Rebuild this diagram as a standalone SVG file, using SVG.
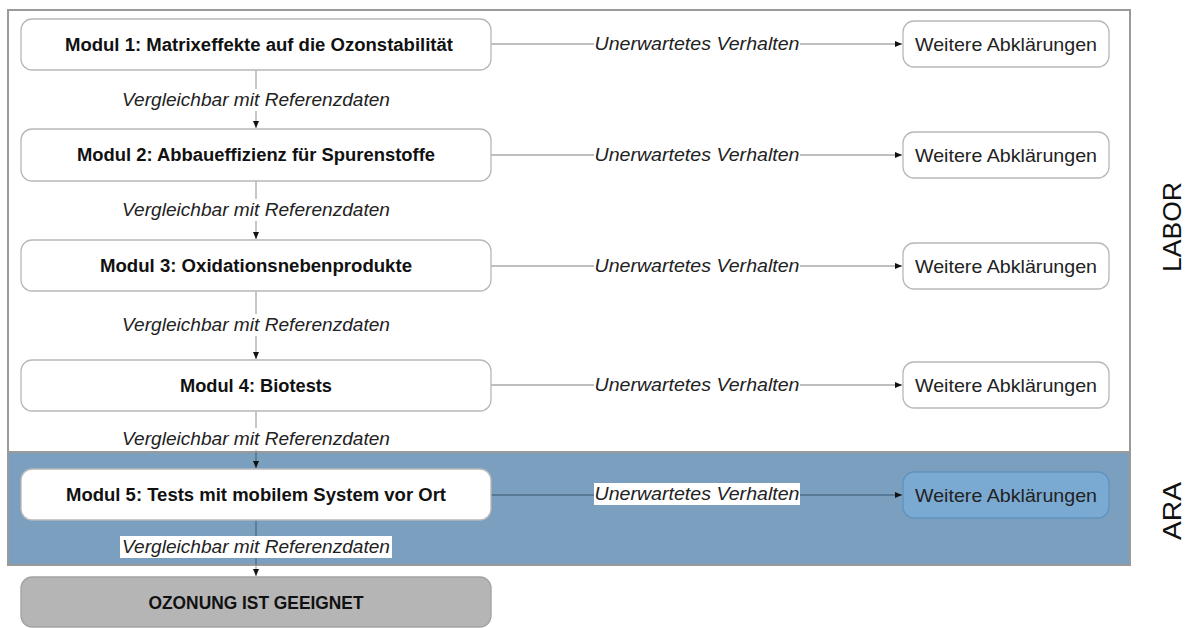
<svg xmlns="http://www.w3.org/2000/svg" width="1189" height="628" viewBox="0 0 1189 628">
<style>
.frame{fill:#ffffff;stroke:#9a9a9a;stroke-width:2}
.ara{fill:#7a9fbf;stroke:#9a9a9a;stroke-width:2}
.mod{fill:#ffffff;stroke:#b8b8b8;stroke-width:1.3}
.wa{fill:#ffffff;stroke:#b8b8b8;stroke-width:1.3}
.waAra{fill:#7aaad2;stroke:#5f93bf;stroke-width:1.3}
.fin{fill:#b5b5b5;stroke:#a3a3a3;stroke-width:1.3}
.mt{font-family:"Liberation Sans",Arial,sans-serif;font-weight:bold;font-size:17.5px;fill:#111;text-anchor:middle}
.wt{font-family:"Liberation Sans",Arial,sans-serif;font-size:18.5px;fill:#222;text-anchor:middle}
.lbl{font-family:"Liberation Sans",Arial,sans-serif;font-style:italic;font-size:17.5px;fill:#222;text-anchor:middle}
.side{font-family:"Liberation Sans",Arial,sans-serif;font-size:26px;fill:#111;text-anchor:middle}
.ln{stroke:#a8a8a8;stroke-width:1.3;fill:none}
.lnA{stroke:#4e6d88;stroke-width:1.3;fill:none}
.bg{fill:#ffffff}
</style>
<defs>
<marker id="ah" markerWidth="8" markerHeight="8" refX="7" refY="4" orient="auto" markerUnits="userSpaceOnUse">
<path d="M0,1 L7,4 L0,7 Z" fill="#111"/>
</marker>
</defs>

<g id="labor-frame">
<rect class="frame" x="8" y="10" width="1122" height="442"/>
<text class="side" transform="translate(1181,227) rotate(-90)" textLength="90" lengthAdjust="spacingAndGlyphs">LABOR</text>
</g>
<g id="ara-frame">
<rect class="ara" x="8" y="452" width="1122" height="113"/>
<text class="side" transform="translate(1181,511) rotate(-90)" textLength="58" lengthAdjust="spacingAndGlyphs">ARA</text>
</g>

<g id="connectors">
<line class="ln" x1="256" y1="70" x2="256" y2="128" marker-end="url(#ah)"/>
<line class="ln" x1="256" y1="181" x2="256" y2="239" marker-end="url(#ah)"/>
<line class="ln" x1="256" y1="291" x2="256" y2="359" marker-end="url(#ah)"/>
<line class="ln" x1="256" y1="411" x2="256" y2="452"/>
<line class="lnA" x1="256" y1="452" x2="256" y2="468" marker-end="url(#ah)"/>
<line class="lnA" x1="256" y1="520" x2="256" y2="565"/>
<line class="ln" x1="256" y1="565" x2="256" y2="576" marker-end="url(#ah)"/>
<line class="ln" x1="491" y1="44" x2="902" y2="44" marker-end="url(#ah)"/>
<line class="ln" x1="491" y1="155" x2="902" y2="155" marker-end="url(#ah)"/>
<line class="ln" x1="491" y1="266" x2="902" y2="266" marker-end="url(#ah)"/>
<line class="ln" x1="491" y1="385" x2="902" y2="385" marker-end="url(#ah)"/>
<line class="lnA" x1="491" y1="495" x2="902" y2="495" marker-end="url(#ah)"/>

<rect class="bg" x="594" y="33" width="206" height="22"/>
<text class="lbl" x="697" y="50" textLength="205" lengthAdjust="spacingAndGlyphs">Unerwartetes Verhalten</text>
<rect class="bg" x="594" y="144" width="206" height="22"/>
<text class="lbl" x="697" y="161" textLength="205" lengthAdjust="spacingAndGlyphs">Unerwartetes Verhalten</text>
<rect class="bg" x="594" y="255" width="206" height="22"/>
<text class="lbl" x="697" y="272" textLength="205" lengthAdjust="spacingAndGlyphs">Unerwartetes Verhalten</text>
<rect class="bg" x="594" y="374" width="206" height="22"/>
<text class="lbl" x="697" y="391" textLength="205" lengthAdjust="spacingAndGlyphs">Unerwartetes Verhalten</text>
<rect class="bg" x="594" y="483" width="206" height="22"/>
<text class="lbl" x="697" y="500" textLength="205" lengthAdjust="spacingAndGlyphs">Unerwartetes Verhalten</text>

<rect class="bg" x="120" y="89" width="272" height="22"/>
<text class="lbl" x="256" y="106" textLength="268" lengthAdjust="spacingAndGlyphs">Vergleichbar mit Referenzdaten</text>
<rect class="bg" x="120" y="199" width="272" height="22"/>
<text class="lbl" x="256" y="216" textLength="268" lengthAdjust="spacingAndGlyphs">Vergleichbar mit Referenzdaten</text>
<rect class="bg" x="120" y="314" width="272" height="22"/>
<text class="lbl" x="256" y="331" textLength="268" lengthAdjust="spacingAndGlyphs">Vergleichbar mit Referenzdaten</text>
<rect class="bg" x="120" y="428" width="272" height="22"/>
<text class="lbl" x="256" y="445" textLength="268" lengthAdjust="spacingAndGlyphs">Vergleichbar mit Referenzdaten</text>
<rect class="bg" x="120" y="536" width="272" height="22"/>
<text class="lbl" x="256" y="553" textLength="268" lengthAdjust="spacingAndGlyphs">Vergleichbar mit Referenzdaten</text>
</g>

<g id="modul1">
<rect class="mod" x="21" y="19" width="470" height="51" rx="11"/>
<text class="mt" x="259" y="51" textLength="388" lengthAdjust="spacingAndGlyphs">Modul 1: Matrixeffekte auf die Ozonstabilität</text>
</g>
<g id="modul2">
<rect class="mod" x="21" y="129" width="470" height="52" rx="11"/>
<text class="mt" x="256" y="161" textLength="358" lengthAdjust="spacingAndGlyphs">Modul 2: Abbaueffizienz für Spurenstoffe</text>
</g>
<g id="modul3">
<rect class="mod" x="21" y="240" width="470" height="51" rx="11"/>
<text class="mt" x="256" y="272" textLength="312" lengthAdjust="spacingAndGlyphs">Modul 3: Oxidationsnebenprodukte</text>
</g>
<g id="modul4">
<rect class="mod" x="21" y="360" width="470" height="51" rx="11"/>
<text class="mt" x="256" y="392" textLength="152" lengthAdjust="spacingAndGlyphs">Modul 4: Biotests</text>
</g>
<g id="modul5">
<rect class="mod" x="21" y="469" width="470" height="51" rx="11"/>
<text class="mt" x="256" y="501" textLength="380" lengthAdjust="spacingAndGlyphs">Modul 5: Tests mit mobilem System vor Ort</text>
</g>
<g id="ergebnis">
<rect class="fin" x="21" y="577" width="470" height="50" rx="11"/>
<text class="mt" x="256" y="609" textLength="215" lengthAdjust="spacingAndGlyphs">OZONUNG IST GEEIGNET</text>
</g>

<g id="abklaerung1">
<rect class="wa" x="903" y="21" width="206" height="46" rx="11"/>
<text class="wt" x="1006" y="51" textLength="182" lengthAdjust="spacingAndGlyphs">Weitere Abklärungen</text>
</g>
<g id="abklaerung2">
<rect class="wa" x="903" y="132" width="206" height="46" rx="11"/>
<text class="wt" x="1006" y="162" textLength="182" lengthAdjust="spacingAndGlyphs">Weitere Abklärungen</text>
</g>
<g id="abklaerung3">
<rect class="wa" x="903" y="243" width="206" height="46" rx="11"/>
<text class="wt" x="1006" y="273" textLength="182" lengthAdjust="spacingAndGlyphs">Weitere Abklärungen</text>
</g>
<g id="abklaerung4">
<rect class="wa" x="903" y="362" width="206" height="46" rx="11"/>
<text class="wt" x="1006" y="392" textLength="182" lengthAdjust="spacingAndGlyphs">Weitere Abklärungen</text>
</g>
<g id="abklaerung5">
<rect class="waAra" x="903" y="472" width="206" height="46" rx="11"/>
<text class="wt" x="1006" y="502" textLength="182" lengthAdjust="spacingAndGlyphs">Weitere Abklärungen</text>
</g>
</svg>
